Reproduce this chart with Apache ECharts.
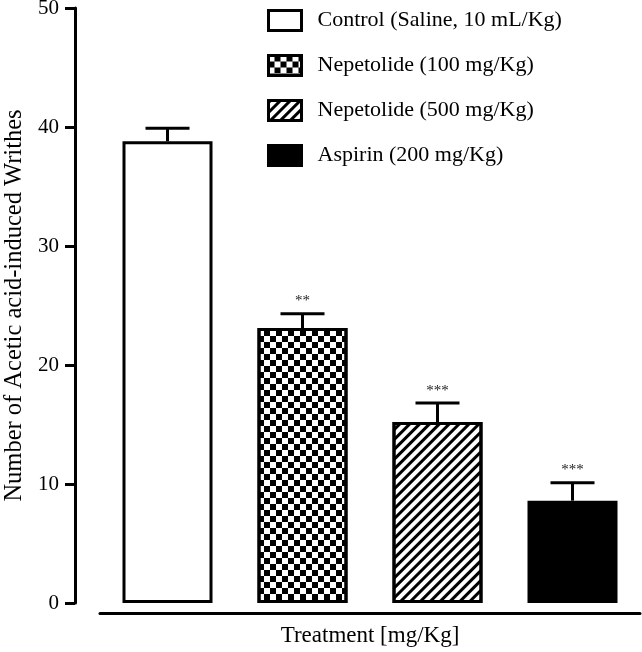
<!DOCTYPE html>
<html>
<head>
<meta charset="utf-8">
<script src="https://cdn.jsdelivr.net/npm/echarts@6/dist/echarts.min.js"></script>
<style>
  html, body { margin: 0; padding: 0; background: #fff; }
  #chart { width: 642px; height: 652px; }
</style>
</head>
<body>
<div id="chart"></div>
<script>
// data
const groups = ['Control (Saline, 10 mL/Kg)', 'Nepetolide (100 mg/Kg)', 'Nepetolide (500 mg/Kg)', 'Aspirin (200 mg/Kg)']
const means = [38.8, 23.1, 15.2, 8.6]
const sems = [1.1, 1.2, 1.6, 1.5]
const stars = ['', '**', '***', '***']
const yTicks = [0, 10, 20, 30, 40, 50]

const FONT = 'Liberation Serif'

const styles = [
  { color: '#fff' },
  {
    color: '#fff',
    decal: {
      symbol: 'rect',
      symbolSize: 1,
      symbolKeepAspect: false,
      color: '#000',
      dashArrayX: [[5.5, 5.5], [0, 5.5, 5.5, 0]],
      dashArrayY: [5.5, 0]
    }
  },
  {
    color: '#fff',
    decal: {
      symbol: 'rect',
      symbolSize: 1,
      symbolKeepAspect: false,
      color: '#000',
      dashArrayX: [1, 0],
      dashArrayY: [3, 3.5],
      rotation: -Math.PI / 4
    }
  },
  { color: '#000' }
]

let barSeries = groups.map(function (name, i) {
  let data = groups.map(function (g, j) { return j === i ? means[i] : '-' })
  return {
    name: name,
    type: 'bar',
    stack: 'all',
    barWidth: 90,
    data: data,
    itemStyle: Object.assign({ borderColor: '#000', borderWidth: 3 }, styles[i])
  }
})

let errData = groups.map(function (g, i) { return [i, means[i], sems[i], stars[i]] })

let errSeries = {
  type: 'custom',
  z: 5,
  data: errData,
  encode: { x: 0, y: 1 },
  renderItem: function (params, api) {
    let x = api.value(0)
    let top = api.coord([x, api.value(1)])
    let cap = api.coord([x, api.value(1) + api.value(2)])
    let half = 22
    let star = stars[params.dataIndex]
    let children = [
      { type: 'line', shape: { x1: top[0], y1: top[1], x2: cap[0], y2: cap[1] }, style: { stroke: '#000', lineWidth: 3 } },
      { type: 'line', shape: { x1: cap[0] - half, y1: cap[1], x2: cap[0] + half, y2: cap[1] }, style: { stroke: '#000', lineWidth: 3 } }
    ]
    if (star) {
      children.push({
        type: 'text',
        x: cap[0],
        y: cap[1] - 5,
        style: { text: star, fill: '#222', font: '15px ' + FONT, align: 'center', verticalAlign: 'bottom' }
      })
    }
    return { type: 'group', children: children }
  }
}

let chart = echarts.init(document.getElementById('chart'))
chart.setOption({
  animation: false,
  backgroundColor: '#fff',
  textStyle: { fontFamily: FONT },
  grid: { left: 100, right: 2, top: 8, bottom: 49, outerBoundsMode: 'none' },
  legend: {
    orient: 'vertical',
    left: 267,
    top: 9,
    padding: 0,
    icon: 'rect',
    itemWidth: 33,
    itemHeight: 20,
    itemGap: 22,
    data: groups,
    itemStyle: { borderWidth: 3, borderColor: '#000' },
    textStyle: { fontFamily: FONT, fontSize: 22, lineHeight: 20, color: '#000', padding: [0, 0, 0, 11] }
  },
  xAxis: {
    type: 'category',
    data: groups,
    offset: 10,
    axisLine: { onZero: false, lineStyle: { color: '#000', width: 3 } },
    axisTick: { show: false },
    axisLabel: { show: false },
    name: 'Treatment [mg/Kg]',
    nameLocation: 'middle',
    nameGap: 11,
    nameTextStyle: { fontFamily: FONT, fontSize: 23, color: '#000', verticalAlign: 'top' }
  },
  yAxis: {
    type: 'value',
    min: yTicks[0],
    max: yTicks[yTicks.length - 1],
    interval: 10,
    offset: 25,
    axisLine: { show: true, lineStyle: { color: '#000', width: 3 } },
    axisTick: { show: true, length: 10, lineStyle: { color: '#000', width: 3 } },
    axisLabel: { fontFamily: FONT, fontSize: 21, color: '#000', margin: 16 },
    splitLine: { show: false },
    name: 'Number of Acetic acid-induced Writhes',
    nameLocation: 'middle',
    nameRotate: 90,
    nameGap: 48,
    nameTextStyle: { fontFamily: FONT, fontSize: 24.5, color: '#000' }
  },
  series: barSeries.concat([errSeries])
})
</script>
</body>
</html>
